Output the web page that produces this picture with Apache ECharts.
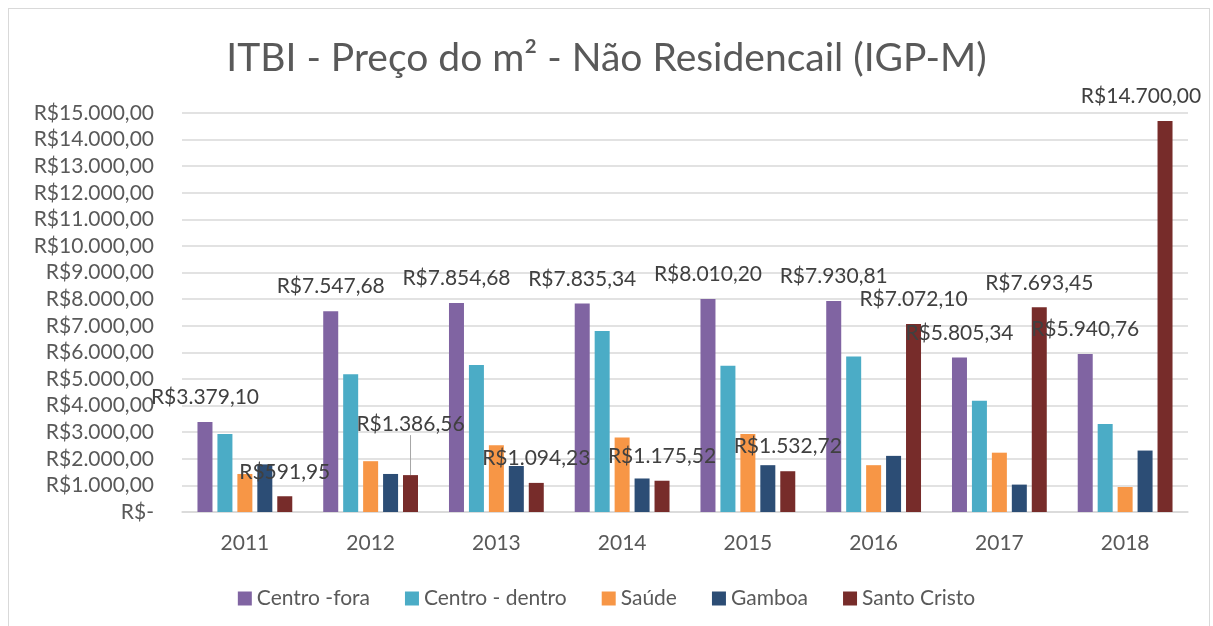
<!DOCTYPE html>
<html>
<head>
<meta charset="utf-8">
<title>ITBI - Preço do m²</title>
<script src="https://cdn.jsdelivr.net/npm/echarts@6/dist/echarts.min.js"></script>
<style>
body{margin:0;background:#fff;}
#chart{width:1213px;height:626px;}
#frame{position:absolute;left:8px;top:8px;width:1200px;height:640px;border:1px solid #d9d9d9;pointer-events:none;}
</style>
</head>
<body>
<div id="chart"></div>
<div id="frame"></div>
<script>

// data
const years = ["2011","2012","2013","2014","2015","2016","2017","2018"]
const centroFora = [3379.10, 7547.68, 7854.68, 7835.34, 8010.20, 7930.81, 5805.34, 5940.76]
const centroDentro = [2930, 5180, 5530, 6800, 5500, 5850, 4180, 3310]
const saude = [1430, 1910, 2510, 2800, 2930, 1760, 2230, 940]
const gamboa = [1790, 1430, 1730, 1260, 1760, 2110, 1030, 2310]
const santoCristo = [591.95, 1386.56, 1094.23, 1175.52, 1532.72, 7072.10, 7693.45, 14700.00]

const font = "Lato, 'Open Sans', sans-serif"
const grey = "#595959"

function brl(v){
  if(v===0) return "R$-"
  const parts = v.toFixed(2).split(".")
  return "R$" + parts[0].replace(/\B(?=(\d{3})+(?!\d))/g, ".") + "," + parts[1]
}

const valueLabel = {
  show:true,
  position:"top",
  distance:14,
  fontFamily:font,
  fontSize:21,
  color:"#404040",
  formatter:p=>brl(p.value)
}

function bar(name,data,color,label){
  const s = {
    name:name,
    type:"bar",
    data:data,
    barWidth:15,
    barGap:"33%",
    itemStyle:{color:color},
    emphasis:{disabled:true}
  }
  if(label) s.label = valueLabel
  return s
}

// Santo Cristo: 2012 label pulled up with a leader line, 2018 label pushed in from the edge
const scSeries = bar("Santo Cristo", santoCristo.map((v,i)=> i===1 ? {value:v, labelLine:{show:true}} : v), "#772C2A", true)
scSeries.labelLayout = function(p){
  if(p.dataIndex===1) return {dy:-26}
  if(p.dataIndex===7) return {dx:-24}
}
scSeries.labelLine = {show:false, lineStyle:{color:"#a6a6a6", width:1}}

const chart = echarts.init(document.getElementById("chart"))

chart.setOption({
  backgroundColor:"#fff",
  animation:false,
  title:{
    text:"ITBI - Preço do m² - Não Residencail (IGP-M)",
    left:"center",
    top:34,
    textStyle:{fontFamily:font,fontSize:39,fontWeight:"normal",color:grey}
  },
  legend:{
    bottom:12,
    left:"center",
    itemWidth:14,
    itemHeight:14,
    itemGap:35,
    icon:"rect",
    textStyle:{fontFamily:font,fontSize:21,color:grey},
    data:["Centro -fora","Centro - dentro","Saúde","Gamboa","Santo Cristo"]
  },
  grid:{left:182,right:25,top:113,bottom:114},
  xAxis:{
    type:"category",
    data:years,
    axisTick:{show:false},
    axisLine:{lineStyle:{color:"#d9d9d9",width:1.5}},
    axisLabel:{fontFamily:font,fontSize:21,color:grey,margin:21}
  },
  yAxis:{
    type:"value",
    min:0,
    max:15000,
    interval:1000,
    axisLabel:{fontFamily:font,fontSize:21,color:grey,margin:28,formatter:brl},
    splitLine:{lineStyle:{color:"#d9d9d9",width:1.5}}
  },
  series:[
    bar("Centro -fora", centroFora, "#8064A2", true),
    bar("Centro - dentro", centroDentro, "#4BACC6", false),
    bar("Saúde", saude, "#F79646", false),
    bar("Gamboa", gamboa, "#2C4D75", false),
    scSeries
  ]
})

</script>
</body>
</html>
